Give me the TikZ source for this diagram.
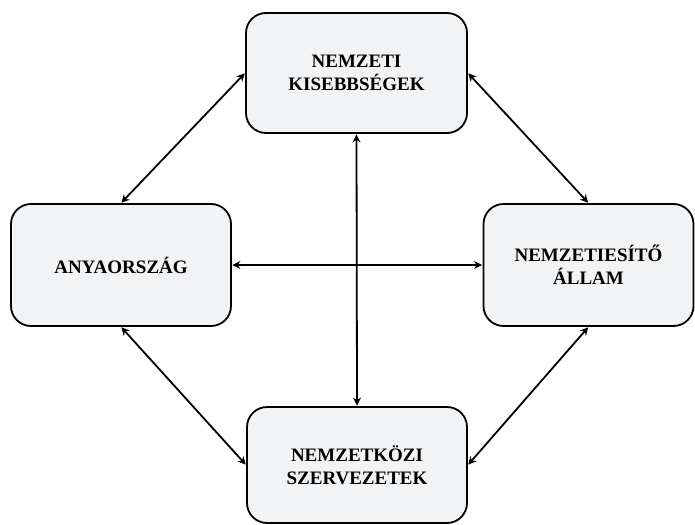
\documentclass[tikz,border=0pt]{standalone}
\usepackage{fontspec}
\setmainfont{Liberation Serif}
\usetikzlibrary{arrows.meta}
\definecolor{boxfill}{HTML}{F2F3F5}
\begin{document}
\begin{tikzpicture}[x=1pt,y=-1pt,
  box/.style={draw=black, line width=1.8pt, fill=boxfill, rounded corners=20pt,
    align=center, font=\fontsize{19}{23}\selectfont\bfseries, inner sep=0pt},
  link/.style={line width=1.8pt, {Stealth[length=8pt,width=8pt]}-{Stealth[length=8pt,width=8pt]}, shorten <=0.5pt, shorten >=0.5pt}]
\useasboundingbox (0,0) rectangle (695,524);
\node[box, minimum width=221pt, minimum height=120pt] (T) at (356.5,73) {NEMZETI\\KISEBBSÉGEK};
\node[box, minimum width=220pt, minimum height=122pt] (L) at (121,265) {ANYAORSZÁG};
\node[box, minimum width=210pt, minimum height=122pt] (R) at (588.5,265) {NEMZETIESÍTŐ\\ÁLLAM};
\node[box, minimum width=220pt, minimum height=116pt, text depth=0pt] (B) at (357,465) {NEMZETKÖZI\\SZERVEZETEK};
\draw[link] (L.north) -- (T.west);
\draw[link] (T.east) -- (R.north);
\draw[link] (L.east) -- (R.west);
\draw[link] (T.south) -- (B.north);
\draw[link] (L.south) -- (B.west);
\draw[link] (R.south) -- (B.east);
\end{tikzpicture}
\end{document}
